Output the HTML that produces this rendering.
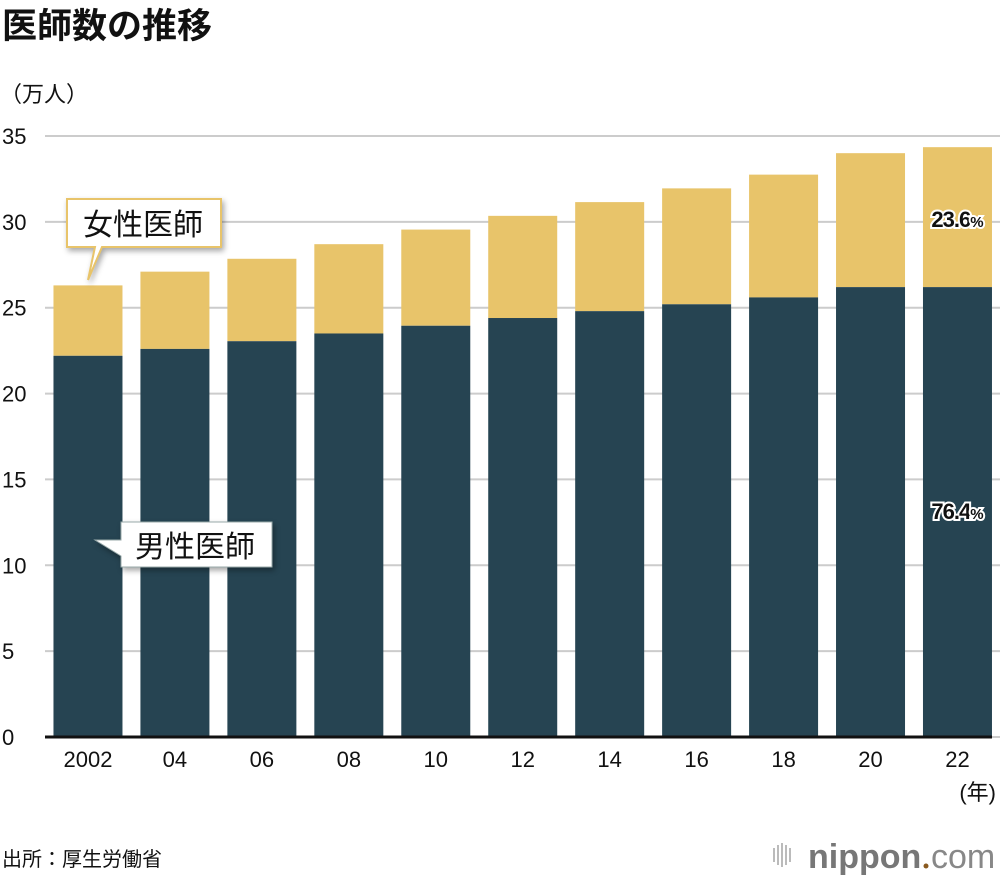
<!DOCTYPE html>
<html><head><meta charset="utf-8"><style>
body{margin:0;background:#fff;}
svg text{font-family:"Liberation Sans","Noto Sans CJK JP",sans-serif;}
</style></head><body>
<svg id="chart" width="1000" height="880" xmlns="http://www.w3.org/2000/svg">
<text x="2" y="38" font-size="35" font-weight="bold" fill="#111">医師数の推移</text>
<text x="0" y="102" font-size="22" fill="#111">（万人）</text>
<g id="grid"></g>
<g id="bars"></g>
<g id="labels"></g>
<line x1="45" y1="737" x2="992" y2="737" stroke="#111" stroke-width="3"/>
<text x="996" y="800" font-size="22" fill="#111" text-anchor="end">(年)</text>
<g filter="drop-shadow(2px 3px 3px rgba(0,0,0,0.35))">
<path d="M67 199 H221 V247 H102 L88 280 L95 247 H67 Z" fill="#fff" stroke="#e8c46a" stroke-width="2"/>
</g>
<text x="83" y="235" font-size="30" fill="#111">女性医師</text>
<g filter="drop-shadow(2px 3px 3px rgba(0,0,0,0.35))">
<path d="M121 522 H272 V567 H121 V556 L95 540 L121 540 Z" fill="#fff" stroke="#9aa" stroke-width="1"/>
</g>
<text x="135" y="557" font-size="30" fill="#111">男性医師</text>
<text x="957" y="227" font-size="22" font-weight="bold" fill="#111" text-anchor="middle" stroke="#fff" stroke-width="4" paint-order="stroke" letter-spacing="-1">23.6<tspan font-size="15">%</tspan></text>
<text x="957" y="519" font-size="22" font-weight="bold" fill="#111" text-anchor="middle" stroke="#fff" stroke-width="4" paint-order="stroke" letter-spacing="-1">76.4<tspan font-size="15">%</tspan></text>
<text x="2" y="866" font-size="20" fill="#111">出所：厚生労働省</text>
<g>
<rect x="773" y="848" width="2" height="14" fill="#bbb"/><rect x="777" y="845" width="2" height="20" fill="#bbb"/><rect x="781" y="843" width="2" height="24" fill="#bbb"/><rect x="785" y="845" width="2" height="20" fill="#bbb"/><rect x="789" y="848" width="2" height="14" fill="#bbb"/>
<text x="808" y="868" font-size="34" font-weight="bold" fill="#777">nippon</text>
<circle cx="926" cy="866" r="2.5" fill="#8a5a20"/>
<text x="931" y="868" font-size="34" fill="#888">com</text>
</g>
</svg>
<script>
const categories=["2002","04","06","08","10","12","14","16","18","20","22"];
const maleValues=[22.2,22.6,23.05,23.5,23.95,24.4,24.8,25.2,25.6,26.2,26.2];
const totalValues=[26.3,27.1,27.85,28.7,29.55,30.35,31.15,31.95,32.75,34.0,34.35];
const yTicks=[0,5,10,15,20,25,30,35];
const NS="http://www.w3.org/2000/svg";
const y0=737,yTop=136,yMax=35;
const y=v=>y0-(v/yMax)*(y0-yTop);
const x0=44.5,step=86.95,bw=69;
const xc=i=>x0+step*i+step/2;
function mk(tag,attrs,parent){const e=document.createElementNS(NS,tag);for(const k in attrs)e.setAttribute(k,attrs[k]);parent.appendChild(e);return e;}
const grid=document.getElementById('grid'),bars=document.getElementById('bars'),labels=document.getElementById('labels');
yTicks.forEach(t=>{
  const l=mk('line',{x1:45,x2:1000,y1:y(t),y2:y(t),stroke:'#ccc','stroke-width':2},grid);
  
  
  const tx=mk('text',{x:2,y:y(t)+8,'font-size':22,fill:'#111'},grid);
  tx.textContent=t;
  
  
});
categories.forEach((c,i)=>{
  const f=mk('rect',{x:xc(i)-bw/2,y:y(totalValues[i]),width:bw,height:y(maleValues[i])-y(totalValues[i]),fill:'#e8c46a'},bars);
  
  
  const m=mk('rect',{x:xc(i)-bw/2,y:y(maleValues[i]),width:bw,height:y0-y(maleValues[i]),fill:'#264452'},bars);
  
  
  const t=mk('text',{x:xc(i),y:767,'font-size':22,fill:'#111','text-anchor':'middle'},labels);
  t.textContent=c;
  
  
});
</script>
</body></html>
